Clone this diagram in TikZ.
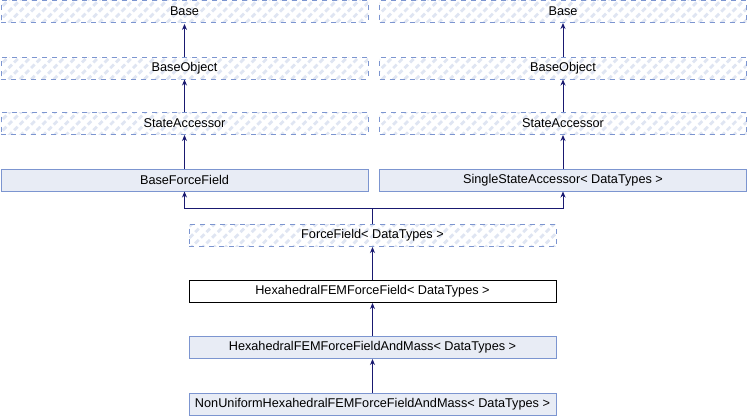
\documentclass[tikz,border=0pt]{standalone}
\usepackage{fontspec}
\setmainfont{Liberation Sans}
\usetikzlibrary{patterns.meta,arrows.meta}
\definecolor{boxborder}{HTML}{7C95D0}
\definecolor{boxfill}{HTML}{E8ECF5}
\definecolor{hatch}{HTML}{DFE5F2}
\definecolor{edge}{HTML}{191970}
\tikzset{
  cls/.style={minimum width=367pt, minimum height=22pt, inner sep=0pt, font=\fontsize{12.7}{14}\selectfont, line width=1pt},
  solidbox/.style={cls, draw=boxborder, fill=boxfill},
  plainbox/.style={cls, draw=black, fill=white},
  hatchbox/.style={cls, draw=boxborder, dash pattern=on 5pt off 5pt,
     pattern={Lines[angle=45,distance=8pt,line width=2.8pt]}, pattern color=hatch},
  inh/.style={draw=edge, line width=1pt, -{Stealth[length=6pt,width=5pt]}},
  seg/.style={draw=edge, line width=1pt}
}
\begin{document}
\begin{tikzpicture}[x=1pt,y=-1pt]
\useasboundingbox (0,0) rectangle (748,416);
% left column
\node[hatchbox] (baseL) at (184.5,11.5) {Base};
\node[hatchbox] (boL) at (184.5,68) {BaseObject};
\node[hatchbox] (saL) at (184.5,123.5) {StateAccessor};
\node[solidbox] (bff) at (184.5,180) {BaseForceField};
% right column
\node[hatchbox] (baseR) at (563,11.5) {Base};
\node[hatchbox] (boR) at (563,68) {BaseObject};
\node[hatchbox] (saR) at (563,123.5) {StateAccessor};
\node[solidbox] (ssa) at (563,180) {SingleStateAccessor< DataTypes >};
% middle
\node[hatchbox] (ff) at (372.5,235.5) {ForceField< DataTypes >};
\node[plainbox] (hex) at (372.5,291.5) {HexahedralFEMForceField< DataTypes >};
\node[solidbox] (hexm) at (372.5,347.5) {HexahedralFEMForceFieldAndMass< DataTypes >};
\node[solidbox] (nu) at (372.5,404) {NonUniformHexahedralFEMForceFieldAndMass< DataTypes >};
% edges
\draw[inh] (boL.north) -- (baseL.south);
\draw[inh] (saL.north) -- (boL.south);
\draw[inh] (bff.north) -- (saL.south);
\draw[inh] (boR.north) -- (baseR.south);
\draw[inh] (saR.north) -- (boR.south);
\draw[inh] (ssa.north) -- (saR.south);
\coordinate (j) at (372.5,208);
\draw[seg] (ff.north) -- (j);
\draw[inh] (j) -| (bff.south);
\draw[inh] (j) -| (ssa.south);
\draw[inh] (hex.north) -- (ff.south);
\draw[inh] (hexm.north) -- (hex.south);
\draw[inh] (nu.north) -- (hexm.south);
\end{tikzpicture}
\end{document}
